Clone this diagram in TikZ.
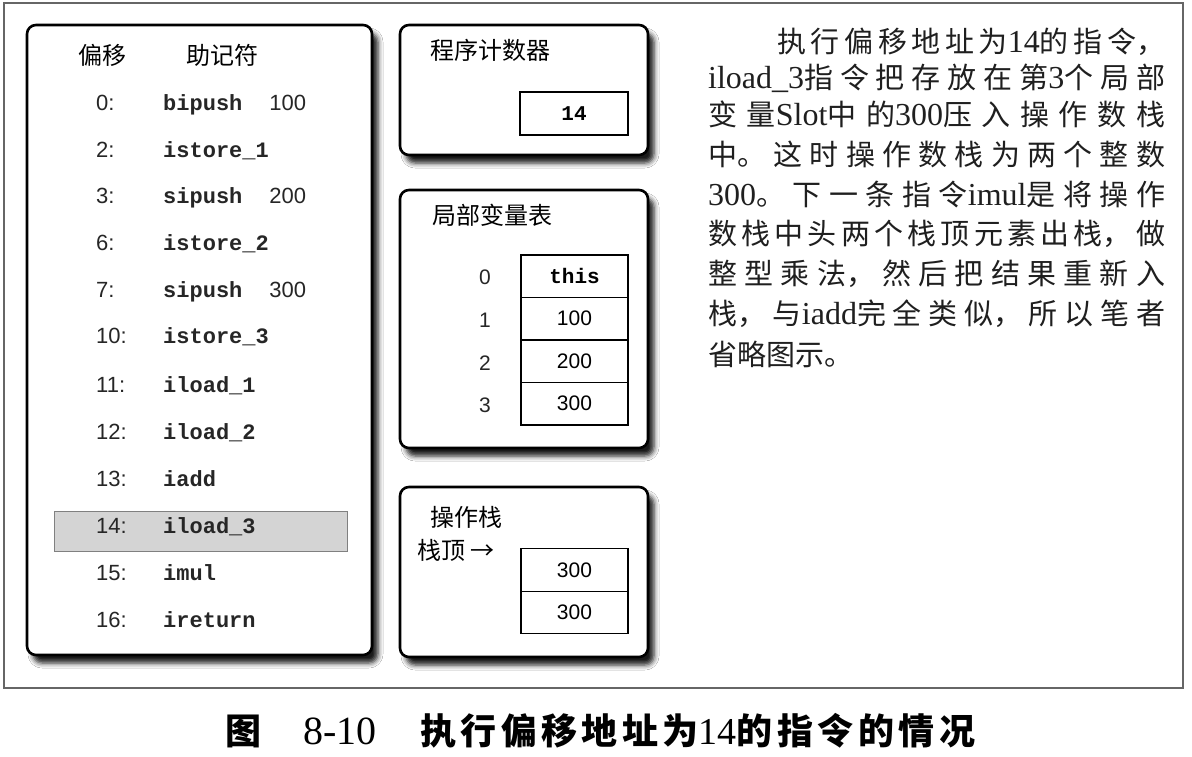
\documentclass[tikz,border=0pt]{standalone}
\usepackage{fontspec}
\setmainfont{Liberation Serif}
\newfontfamily\cjk{Noto Sans CJK SC}
\newfontfamily\monof{Liberation Mono}
\newfontfamily\sansf{Liberation Sans}
\newfontfamily\serf{Liberation Serif}
\usetikzlibrary{shadows.blur}
\newcommand\lat[1]{{\serf\fontsize{32}{32}\selectfont #1}}
\newcommand\caplat[1]{{\serf\mdseries\fontsize{38}{38}\selectfont #1}}
\newcommand\jline[3]{\parbox{#1}{\XeTeXlinebreaklocale "zh"\XeTeXlinebreakskip=0pt plus 1fil\relax\parfillskip=0pt\relax #2#3}}
\begin{document}
\begin{tikzpicture}[x=1pt,y=-1pt,
  panel/.style={draw=black, line width=2.6pt, rounded corners=9pt, fill=white,
     blur shadow={shadow xshift=6pt, shadow yshift=-8pt, shadow blur radius=5pt, shadow opacity=90}},
  cell/.style={draw=black, line width=1.1pt, minimum width=107pt, minimum height=42.5pt, inner sep=0pt, font=\sansf\fontsize{21}{21}\selectfont},
  zh/.style={inner sep=0pt, font=\cjk\fontsize{24}{24}\selectfont},
  off/.style={anchor=mid west, inner sep=0pt, font=\sansf\fontsize{22}{22}\selectfont, text=black!85},
  ins/.style={anchor=mid west, inner sep=0pt, font=\monof\bfseries\fontsize{22}{22}\selectfont, text=black!85},
  idx/.style={inner sep=0pt, font=\sansf\fontsize{21}{21}\selectfont, text=black!85},
  para/.style={anchor=west, inner sep=0pt, text=black!88},
]
\useasboundingbox (0,0) rectangle (1192,756);
\fill[white] (0,0) rectangle (1192,756);
\node[draw=black!60, line width=1.6pt, minimum width=1179pt, minimum height=685pt, inner sep=0pt] (frame) at (593.5,345.5) {};

% panels
\node[panel, minimum width=345pt, minimum height=630pt] (left) at (199.5,340) {};
\node[panel, minimum width=248pt, minimum height=130pt] (pc) at (524,90) {};
\node[panel, minimum width=248pt, minimum height=258pt] (lv) at (524,319) {};
\node[panel, minimum width=248pt, minimum height=170pt] (os) at (524,572) {};

% highlight row
\node[draw=black!50, fill=black!17, line width=1pt, minimum width=293pt, minimum height=40pt, inner sep=0pt] (hl) at (200.5,531) {};

% headers
\node[zh] (h1) at (102,55) {偏移};
\node[zh] (h2) at (222,55) {助记符};

\foreach \o/\ins/\y [count=\i] in {
  0:/{bipush\hspace{27pt}{\sansf\mdseries 100}}/108,
  2:/{istore\_1}/155,
  3:/{sipush\hspace{27pt}{\sansf\mdseries 200}}/201,
  6:/{istore\_2}/248,
  7:/{sipush\hspace{27pt}{\sansf\mdseries 300}}/295,
  10:/{istore\_3}/341,
  11:/{iload\_1}/390,
  12:/{iload\_2}/437,
  13:/{iadd}/484,
  14:/{iload\_3}/531,
  15:/{imul}/578,
  16:/{ireturn}/625}{
  \node[off] (o\i) at (96,\y) {\o};
  \node[ins] (n\i) at (163,\y) {\ins};
}

% program counter
\node[zh, anchor=west] (pct) at (430,50) {程序计数器};
\node[cell, font=\monof\bfseries\fontsize{21}{21}\selectfont, minimum height=43pt, minimum width=108pt] (pcv) at (574,113.5) {14};

% local variable table
\node[zh, anchor=west] (lvt) at (432,215) {局部变量表};
\node[cell, font=\monof\bfseries\fontsize{21}{21}\selectfont] (l0) at (574.5,276.25) {this};
\node[cell] (l1) at (574.5,318.75) {100};
\node[cell] (l2) at (574.5,361.25) {200};
\node[cell] (l3) at (574.5,403.75) {300};
\node[idx] (i0) at (485,277) {0};
\node[idx] (i1) at (485,320) {1};
\node[idx] (i2) at (485,363) {2};
\node[idx] (i3) at (485,405) {3};

% operand stack
\node[zh, anchor=west] (ost) at (430,517) {操作栈};
\node[zh, anchor=west] (top) at (417,550) {栈顶 →};
\node[cell] (s0) at (574.5,570) {300};
\node[cell] (s1) at (574.5,612.5) {300};

% paragraph
\node[para] (p1) at (777,42) {\jline{388pt}{\cjk\fontsize{29}{29}\selectfont}{执行偏移地址为\lat{14}的指令，}};
\node[para] (p2) at (708,78) {\jline{457pt}{\cjk\fontsize{29}{29}\selectfont}{\lat{iload\_3}指令把存放在第\lat{3}个局部}};
\node[para] (p3) at (708,114) {\jline{457pt}{\cjk\fontsize{29}{29}\selectfont}{变量\lat{Slot}中的\lat{300}压入操作数栈}};
\node[para] (p4) at (708,154) {\jline{457pt}{\cjk\fontsize{29}{29}\selectfont}{中。这时操作数栈为两个整数}};
\node[para] (p5) at (708,194) {\jline{457pt}{\cjk\fontsize{29}{29}\selectfont}{\lat{300}。下一条指令\lat{imul}是将操作}};
\node[para] (p6) at (708,234) {\jline{457pt}{\cjk\fontsize{29}{29}\selectfont}{数栈中头两个栈顶元素出栈，做}};
\node[para] (p7) at (708,274) {\jline{457pt}{\cjk\fontsize{29}{29}\selectfont}{整型乘法，然后把结果重新入}};
\node[para] (p8) at (708,314) {\jline{457pt}{\cjk\fontsize{29}{29}\selectfont}{栈，与\lat{iadd}完全类似，所以笔者}};
\node[para] (p9) at (708,354) {\cjk\fontsize{29}{29}\selectfont 省略图示。};

% caption
\node[inner sep=0pt, font=\cjk\bfseries\fontsize{36}{36}\selectfont] (c1) at (243,731) {图};
\node[anchor=west, inner sep=0pt, font=\serf\fontsize{40}{40}\selectfont] (c2) at (303,731) {8-10};
\node[anchor=west, inner sep=0pt] (c3) at (420,731) {\jline{555pt}{\cjk\bfseries\fontsize{36}{36}\selectfont}{执行偏移地址为\caplat{14}的指令的情况}};
\end{tikzpicture}
\end{document}
